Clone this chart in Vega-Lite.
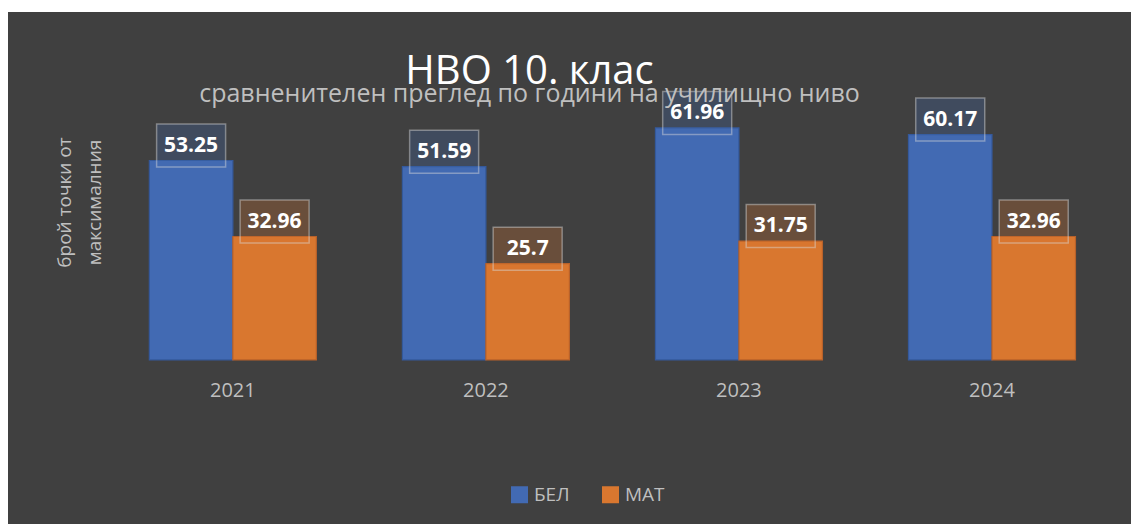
{
  "$schema": "https://vega.github.io/schema/vega-lite/v6.json",
  "width": 1123,
  "height": 512,
  "autosize": {"type": "none"},
  "padding": {"left": 8, "top": 12, "right": 0, "bottom": 0},
  "background": "#ffffff",
  "config": {
    "view": {"fill": "#404040", "stroke": null},
    "font": "Open Sans"
  },
  "title": {
    "text": "НВО 10. клас",
    "subtitle": "сравненителен преглед по години на училищно ниво",
    "anchor": "middle",
    "dx": -40,
    "offset": -95,
    "fontSize": 40,
    "fontWeight": "normal",
    "color": "#ffffff",
    "subtitleFontSize": 25,
    "subtitleColor": "#bfbfbf",
    "subtitlePadding": -10,
    "font": "Open Sans",
    "subtitleFont": "Open Sans",
    "zindex": 0
  },
  "data": {
    "values": [
      {"year": "2021", "subject": "БЕЛ", "score": 53.25},
      {"year": "2021", "subject": "МАТ", "score": 32.96},
      {"year": "2022", "subject": "БЕЛ", "score": 51.59},
      {"year": "2022", "subject": "МАТ", "score": 25.7},
      {"year": "2023", "subject": "БЕЛ", "score": 61.96},
      {"year": "2023", "subject": "МАТ", "score": 31.75},
      {"year": "2024", "subject": "БЕЛ", "score": 60.17},
      {"year": "2024", "subject": "МАТ", "score": 32.96}
    ]
  },
  "encoding": {
    "x": {
      "field": "year",
      "type": "nominal",
      "scale": {"paddingInner": 0.34, "paddingOuter": 0.389, "align": 0.718},
      "axis": {
        "title": null,
        "orient": "bottom",
        "offset": -134,
        "domain": false,
        "ticks": false,
        "grid": false,
        "labelPadding": 0,
        "labelBaseline": "middle",
        "labelAngle": 0,
        "labelFontSize": 20,
        "labelColor": "#bfbfbf",
        "labelFont": "Open Sans"
      }
    },
    "xOffset": {
      "field": "subject",
      "type": "nominal",
      "scale": {"domain": ["БЕЛ", "МАТ"], "paddingInner": 0, "paddingOuter": 0}
    },
    "y": {
      "field": "score",
      "type": "quantitative",
      "scale": {"domain": [-43.8, 92.9], "zero": false, "nice": false},
      "axis": {
        "title": ["брой точки от", "максималния"],
        "labels": false,
        "ticks": false,
        "domain": false,
        "grid": false,
        "titleX": 56,
        "titleY": 190,
        "titleAngle": -90,
        "titleAlign": "center",
        "titleBaseline": "middle",
        "titleFontSize": 19,
        "titleFontWeight": "normal",
        "titleColor": "#bfbfbf",
        "titleFont": "Open Sans",
        "titleLineHeight": 30
      }
    }
  },
  "layer": [
    {
      "mark": {"type": "bar", "strokeWidth": 1.2},
      "encoding": {
        "y2": {"datum": 0},
        "color": {
          "field": "subject",
          "type": "nominal",
          "scale": {"domain": ["БЕЛ", "МАТ"], "range": ["#426AB3", "#D9772F"]},
          "legend": {
            "title": null,
            "orient": "none",
            "legendX": 502,
            "legendY": 473,
            "direction": "horizontal",
            "padding": 0,
            "symbolType": "square",
            "symbolSize": 289,
            "symbolOpacity": 1,
            "symbolStrokeWidth": 0,
            "labelFontSize": 19,
            "labelColor": "#bfbfbf",
            "labelFont": "Open Sans",
            "labelOffset": 5,
            "columnPadding": 31
          }
        },
        "stroke": {
          "field": "subject",
          "type": "nominal",
          "scale": {"domain": ["БЕЛ", "МАТ"], "range": ["#34599C", "#B8612A"]},
          "legend": null
        }
      }
    },
    {
      "mark": {
        "type": "point",
        "shape": "M-1,-0.623L1,-0.623L1,0.623L-1,0.623Z",
        "size": 4761,
        "filled": true,
        "fillOpacity": 0.27,
        "opacity": 1,
        "stroke": "#d9d9d9",
        "strokeOpacity": 0.45,
        "strokeWidth": 1.5,
        "yOffset": -15
      },
      "encoding": {
        "fill": {
          "field": "subject",
          "type": "nominal",
          "scale": {"domain": ["БЕЛ", "МАТ"], "range": ["#426AB3", "#D9772F"]},
          "legend": null
        }
      }
    },
    {
      "mark": {
        "type": "text",
        "fontSize": 21,
        "fontWeight": "bold",
        "color": "#ffffff",
        "baseline": "middle",
        "dy": -15,
        "font": "Open Sans"
      },
      "encoding": {
        "text": {"field": "score", "type": "quantitative", "format": ".4~"}
      }
    }
  ]
}
